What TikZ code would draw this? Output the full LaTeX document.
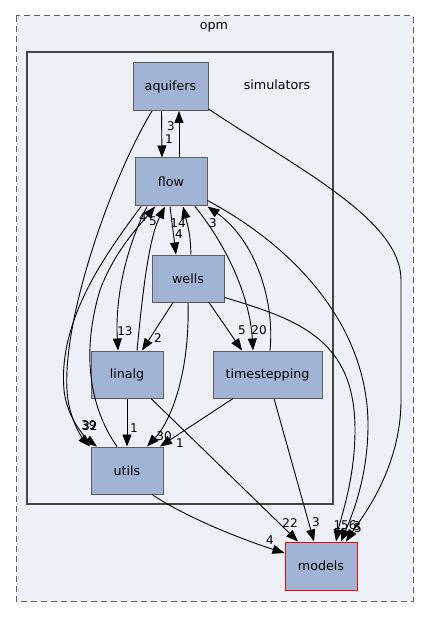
\documentclass[tikz,border=0pt]{standalone}
\usepackage{fontspec}
\setmainfont{DejaVu Sans}
\usetikzlibrary{arrows.meta,calc}
\definecolor{bgfill}{HTML}{EDF0F7}
\definecolor{nodefill}{HTML}{A2B4D6}
\definecolor{nodeline}{HTML}{5E5E5E}
\definecolor{clusterline}{HTML}{444444}
\begin{document}
\begin{tikzpicture}[x=1pt,y=-1pt,
  dirnode/.style={draw=nodeline, fill=nodefill, line width=1pt, minimum width=72pt, minimum height=47pt, inner sep=0pt, font=\fontsize{12.7}{14}\selectfont},
  dep/.style={-{Triangle[length=12pt,width=9pt]}, line width=0.9pt, black},
  elabel/.style={font=\fontsize{12}{13}\selectfont, inner sep=0pt},
  clustertitle/.style={font=\fontsize{12.7}{14}\selectfont, inner sep=0pt}]
\useasboundingbox (0,0) rectangle (429,617);
% clusters
\draw[fill=bgfill, draw=nodeline, line width=1pt, dash pattern=on 6pt off 4pt] (16,16) rectangle (413,601);
\node[clustertitle] (opmtitle) at (214,27) {opm};
\draw[fill=bgfill, draw=clusterline, line width=2pt] (27,52) rectangle (333,504);
\node[clustertitle] (simtitle) at (277,85) {simulators};
% nodes
\node[dirnode, minimum width=75pt, minimum height=48pt] (aquifers) at (170.5,86.5) {aquifers};
\node[dirnode, minimum height=48pt] (flow) at (171,182) {flow};
\node[dirnode] (wells) at (188,278.5) {wells};
\node[dirnode] (linalg) at (127,374.5) {linalg};
\node[dirnode, minimum width=109pt] (timestepping) at (267.5,374.5) {timestepping};
\node[dirnode] (utils) at (127,470.5) {utils};
\node[dirnode, draw=red, minimum height=48pt] (models) at (321,566) {models};
% edges
\draw[dep] ([xshift=-9pt]aquifers.south) -- ([xshift=-9pt]flow.north);
\draw[dep] ([xshift=8pt]flow.north) -- ([xshift=8.5pt]aquifers.south);
\draw[dep] ([xshift=-18.5pt]aquifers.south) .. controls (110,180) and (58,330) .. (68,400) .. controls (72,425) and (84,440) .. ([xshift=-37pt]utils.north);
\draw[dep] ([xshift=-30pt]flow.south) .. controls (105,255) and (58,320) .. (64,390) .. controls (67,420) and (88,440) .. ([xshift=-30pt]utils.north);
\draw[dep] ([xshift=-24pt]flow.south) .. controls (125,250) and (115,300) .. ([xshift=-9pt]linalg.north);
\draw[dep] ([xshift=10pt]linalg.north) .. controls (142,300) and (148,240) .. ([xshift=-6pt]flow.south);
\draw[dep] ([xshift=-10pt]utils.north) .. controls (88,405) and (82,350) .. (100,290) .. controls (115,250) and (140,225) .. ([xshift=-16pt]flow.south);
\draw[dep] ([xshift=-1pt]flow.south) -- ([xshift=-12pt]wells.north);
\draw[dep] ([xshift=3pt]wells.north) .. controls (190,235) .. ([xshift=12pt]flow.south);
\draw[dep] ([xshift=24pt]flow.south) .. controls (230,250) and (250,300) .. ([xshift=-14.5pt]timestepping.north);
\draw[dep] ([xshift=2.5pt]timestepping.north) .. controls (275,300) and (255,240) .. (flow.south east);
\draw[dep] ([xshift=21pt]wells.south) -- ([xshift=-25.5pt]timestepping.north);
\draw[dep] ([xshift=-15pt]wells.south) -- ([xshift=15pt]linalg.north);
\draw[dep] (wells.south) .. controls (190,370) and (172,420) .. ([xshift=20pt]utils.north);
\draw[dep] (linalg.south) -- (utils.north);
\draw[dep] ([xshift=-34.5pt]timestepping.south) -- ([xshift=33pt]utils.north);
\draw[dep] ([xshift=24pt]linalg.south) -- ([xshift=-23pt]models.north);
\draw[dep] ([xshift=6.5pt]timestepping.south) -- ([xshift=-7pt]models.north);
\draw[dep] ([xshift=25pt]utils.south) .. controls (190,520) and (250,542) .. ([yshift=13pt]models.west);
\draw[dep] ([yshift=5pt]wells.south east) .. controls (300,320) and (355,340) .. (355,430) .. controls (355,480) and (340,520) .. ([xshift=15pt]models.north);
\draw[dep] ([yshift=6pt]flow.south east) .. controls (300,250) and (368,330) .. (368,425) .. controls (368,480) and (350,520) .. ([xshift=20pt]models.north);
\draw[dep] ([yshift=2pt]aquifers.south east) .. controls (300,170) and (401,220) .. (401,280) -- (401,400) .. controls (401,470) and (360,520) .. ([xshift=25pt]models.north);
% labels
\node[elabel] (l1) at (169,139.5) {1};
\node[elabel] (l2) at (171,126.5) {3};
\node[elabel] (l3) at (89,425) {39};
\node[elabel] (l4) at (90,426) {32};
\node[elabel] (l5) at (125,331) {13};
\node[elabel] (l6) at (153,221) {5};
\node[elabel] (l7) at (143,217) {4};
\node[elabel] (l8) at (179,234.5) {4};
\node[elabel] (l9) at (178,223.5) {14};
\node[elabel] (l10) at (259,330) {20};
\node[elabel] (l11) at (213,223) {3};
\node[elabel] (l12) at (242,330) {5};
\node[elabel] (l13) at (158,338) {2};
\node[elabel] (l14) at (164,436) {30};
\node[elabel] (l15) at (134,428) {1};
\node[elabel] (l16) at (180,443) {1};
\node[elabel] (l17) at (290,523) {22};
\node[elabel] (l18) at (316,522) {3};
\node[elabel] (l19) at (270,540) {4};
\node[elabel] (l20) at (345,525) {156};
\node[elabel] (l21) at (357,526) {3};
\node[elabel] (l22) at (358,528) {5};
\end{tikzpicture}
\end{document}
